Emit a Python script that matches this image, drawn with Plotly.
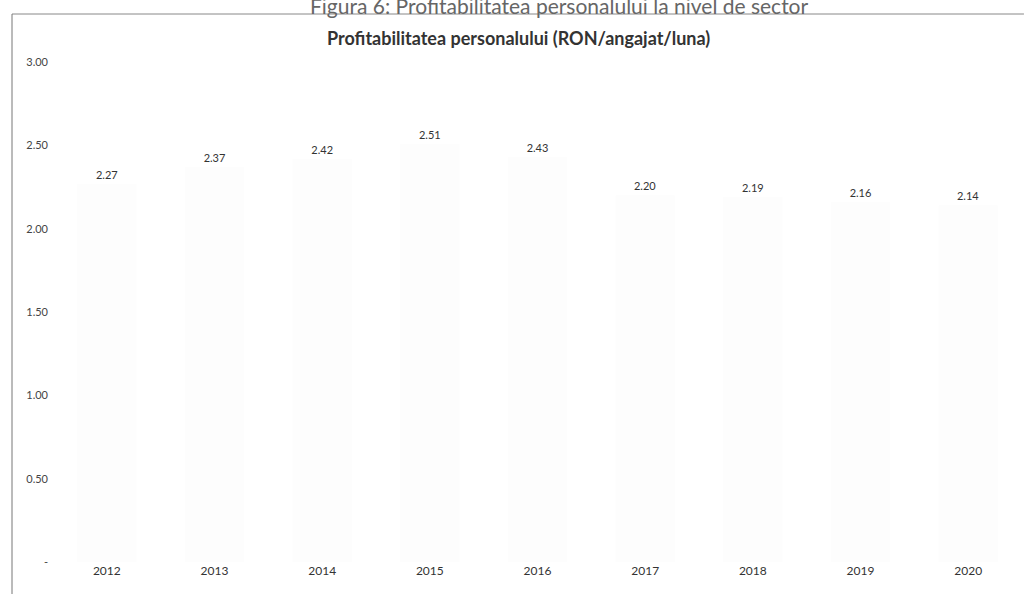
import plotly.graph_objects as go

# Date
ani = ["2012", "2013", "2014", "2015", "2016", "2017", "2018", "2019", "2020"]
profitabilitate = [2.27, 2.37, 2.42, 2.51, 2.43, 2.20, 2.19, 2.16, 2.14]

tick_vals = [0, 0.5, 1.0, 1.5, 2.0, 2.5, 3.0]
tick_text = ["-", "0.50", "1.00", "1.50", "2.00", "2.50", "3.00"]

fig = go.Figure(go.Bar(
    x=ani,
    y=profitabilitate,
    marker=dict(color="#fdfdfd", line=dict(width=0)),
    width=0.55,
    text=[f"{v:.2f}" for v in profitabilitate],
    textposition="outside",
    textfont=dict(family="Lato", size=11, color="#333333"),
    cliponaxis=False,
))

fig.update_layout(
    width=1024,
    height=594,
    margin=dict(l=53, r=2, t=62, b=32),
    paper_bgcolor="white",
    plot_bgcolor="white",
    showlegend=False,
    font=dict(family="Lato", color="#444444"),
    bargap=0.45,
)

fig.update_xaxes(
    showgrid=False, showline=False, zeroline=False, ticks="",
    tickfont=dict(size=12, color="#333333"),
)
fig.update_yaxes(
    range=[0, 3.0],
    tickvals=tick_vals,
    ticktext=tick_text,
    showgrid=False, showline=False, zeroline=False, ticks="",
    tickfont=dict(size=11, color="#444444"),
    ticklabelstandoff=4,
)

# titlu grafic
fig.add_annotation(
    text="<b>Profitabilitatea personalului (RON/angajat/luna)</b>",
    xref="paper", yref="paper", x=0.480, y=1.048,
    xanchor="center", yanchor="middle", showarrow=False,
    font=dict(family="Lato", size=18, color="#333333"),
)
# titlul figurii (taiat sus in scan)
fig.add_annotation(
    text="Figura 6: Profitabilitatea personalului la nivel de sector",
    xref="paper", yref="paper", x=0.523, y=1.112,
    xanchor="center", yanchor="middle", showarrow=False,
    font=dict(family="Lato", size=21, color="#666666"),
)

# chenarul din scan
fig.add_shape(type="line", xref="paper", yref="paper",
              x0=-0.0423, x1=1.002, y0=1.096, y1=1.096,
              line=dict(color="#888888", width=1))
fig.add_shape(type="line", xref="paper", yref="paper",
              x0=-0.0423, x1=-0.0423, y0=1.096, y1=-0.07,
              line=dict(color="#777777", width=1))

fig.write_html("out.html", config={"displayModeBar": False},
               post_script="document.body.style.margin='0';")
